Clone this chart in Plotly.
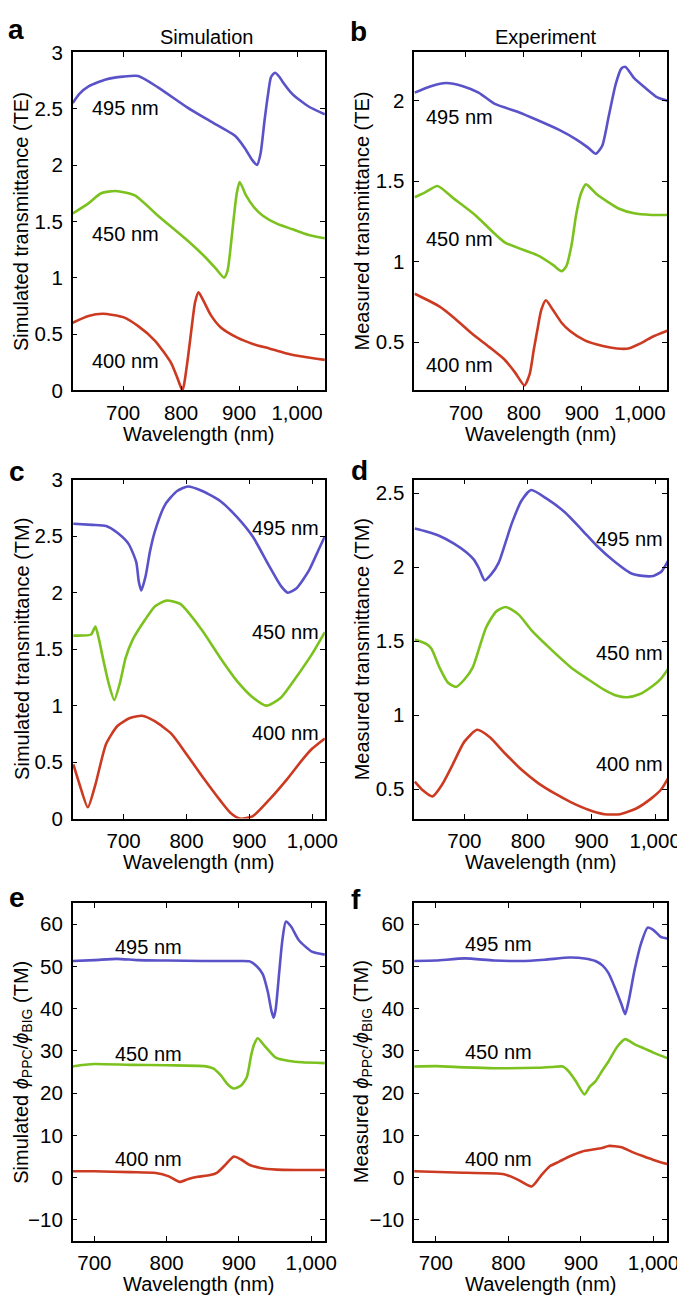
import plotly.graph_objects as go

# ---------------- data ----------------
# Panel a: simulated TE
a_blue_x = [613, 624, 641, 670, 700, 726, 760, 811, 850, 893, 910, 922, 931, 937, 944, 950, 955, 962, 970, 975, 992, 1020, 1048]
a_blue_y = [2.55, 2.63, 2.70, 2.76, 2.785, 2.79, 2.69, 2.51, 2.39, 2.26, 2.15, 2.05, 2.00, 2.10, 2.40, 2.63, 2.78, 2.82, 2.78, 2.74, 2.63, 2.52, 2.45]
a_green_x = [613, 640, 662, 687, 720, 760, 811, 840, 860, 874, 880, 886, 891, 896, 901, 912, 925, 941, 965, 992, 1020, 1048]
a_green_y = [1.57, 1.66, 1.75, 1.77, 1.73, 1.55, 1.33, 1.19, 1.08, 1.00, 1.06, 1.30, 1.54, 1.75, 1.85, 1.73, 1.63, 1.55, 1.48, 1.43, 1.38, 1.35]
a_red_x = [613, 640, 665, 700, 726, 755, 783, 795, 802, 805, 812, 818, 824, 830, 840, 851, 868, 896, 925, 953, 980, 1009, 1048]
a_red_y = [0.60, 0.66, 0.68, 0.65, 0.57, 0.44, 0.24, 0.09, 0.00, 0.05, 0.30, 0.55, 0.78, 0.87, 0.78, 0.67, 0.56, 0.47, 0.41, 0.37, 0.33, 0.30, 0.27]

# Panel b: measured TE
b_blue_x = [612, 640, 666, 695, 722, 750, 790, 823, 860, 890, 910, 924, 935, 946, 958, 968, 975, 990, 1009, 1030, 1047]
b_blue_y = [2.05, 2.09, 2.11, 2.09, 2.05, 1.98, 1.93, 1.88, 1.82, 1.76, 1.71, 1.67, 1.72, 1.90, 2.10, 2.20, 2.21, 2.14, 2.08, 2.02, 2.00]
b_green_x = [612, 630, 651, 680, 716, 767, 823, 850, 865, 873, 882, 890, 898, 907, 925, 945, 963, 990, 1020, 1047]
b_green_y = [1.40, 1.43, 1.47, 1.39, 1.29, 1.12, 1.04, 0.98, 0.94, 0.97, 1.10, 1.29, 1.42, 1.48, 1.42, 1.37, 1.33, 1.30, 1.29, 1.29]
b_red_x = [612, 655, 680, 710, 740, 767, 785, 801, 810, 817, 823, 830, 838, 850, 865, 879, 905, 936, 960, 980, 1000, 1020, 1047]
b_red_y = [0.80, 0.72, 0.65, 0.555, 0.47, 0.39, 0.31, 0.23, 0.30, 0.45, 0.57, 0.70, 0.76, 0.70, 0.62, 0.57, 0.51, 0.475, 0.46, 0.46, 0.49, 0.53, 0.57]

# Panel c: simulated TM
c_blue_x = [620, 650, 672, 690, 708, 720, 724, 728, 735, 742, 750, 766, 785, 802, 825, 854, 880, 906, 930, 950, 961, 975, 995, 1010, 1020]
c_blue_y = [2.61, 2.60, 2.59, 2.53, 2.43, 2.27, 2.10, 2.02, 2.15, 2.37, 2.55, 2.78, 2.90, 2.94, 2.90, 2.81, 2.67, 2.49, 2.25, 2.06, 2.00, 2.04, 2.20, 2.38, 2.50]
c_green_x = [620, 648, 655, 661, 667, 676, 685, 694, 703, 714, 734, 750, 768, 790, 823, 854, 880, 906, 927, 950, 973, 1000, 1020]
c_green_y = [1.62, 1.63, 1.70, 1.58, 1.42, 1.20, 1.05, 1.20, 1.42, 1.58, 1.76, 1.88, 1.93, 1.90, 1.68, 1.42, 1.22, 1.07, 1.00, 1.07, 1.24, 1.46, 1.65]
c_red_x = [620, 630, 643, 655, 672, 690, 710, 729, 750, 776, 800, 828, 855, 870, 885, 905, 932, 960, 984, 1000, 1020]
c_red_y = [0.48, 0.30, 0.10, 0.30, 0.66, 0.82, 0.89, 0.91, 0.86, 0.75, 0.57, 0.35, 0.15, 0.05, 0.00, 0.02, 0.17, 0.35, 0.52, 0.62, 0.71]

# Panel d: measured TM
d_blue_x = [622, 640, 661, 683, 703, 715, 723, 732, 742, 754, 765, 775, 790, 805, 830, 858, 885, 909, 935, 961, 980, 997, 1010, 1020]
d_blue_y = [2.26, 2.24, 2.21, 2.16, 2.10, 2.05, 1.99, 1.91, 1.95, 2.03, 2.17, 2.30, 2.45, 2.52, 2.46, 2.37, 2.25, 2.14, 2.04, 1.96, 1.94, 1.94, 1.97, 2.04]
d_green_x = [622, 640, 648, 661, 674, 687, 700, 713, 734, 750, 765, 785, 806, 837, 868, 895, 920, 940, 956, 975, 997, 1010, 1020]
d_green_y = [1.51, 1.48, 1.45, 1.32, 1.22, 1.19, 1.24, 1.32, 1.59, 1.70, 1.73, 1.68, 1.57, 1.44, 1.32, 1.24, 1.17, 1.13, 1.12, 1.14, 1.20, 1.25, 1.31]
d_red_x = [622, 635, 650, 665, 681, 700, 720, 740, 764, 790, 816, 842, 868, 895, 920, 945, 971, 995, 1010, 1020]
d_red_y = [0.55, 0.49, 0.45, 0.53, 0.66, 0.82, 0.90, 0.85, 0.74, 0.63, 0.54, 0.47, 0.41, 0.36, 0.33, 0.33, 0.37, 0.44, 0.50, 0.57]

# Panel e: simulated phi_PPC/phi_BIG
e_blue_x = [670, 700, 731, 760, 800, 850, 900, 915, 925, 933, 940, 945, 948, 951, 956, 960, 965, 972, 983, 1001, 1019]
e_blue_y = [51.3, 51.5, 51.8, 51.5, 51.4, 51.3, 51.3, 51.2, 50.0, 48.2, 44.0, 39.5, 37.8, 40.0, 49.0, 56.0, 60.6, 59.5, 56.2, 53.5, 52.8]
e_green_x = [670, 680, 700, 750, 800, 852, 865, 875, 885, 893, 903, 911, 917, 921, 926, 935, 951, 970, 987, 1019]
e_green_y = [26.3, 26.6, 26.9, 26.7, 26.6, 26.4, 25.8, 24.2, 22.0, 21.1, 21.8, 23.8, 29.0, 31.5, 33.0, 31.3, 28.4, 27.6, 27.3, 27.1]
e_red_x = [670, 700, 750, 785, 803, 818, 830, 843, 860, 870, 880, 893, 903, 915, 930, 952, 980, 1019]
e_red_y = [1.5, 1.5, 1.3, 1.1, 0.3, -1.0, -0.3, 0.2, 0.6, 1.2, 2.8, 5.0, 4.3, 3.0, 2.3, 1.9, 1.8, 1.8]

# Panel f: measured phi_PPC/phi_BIG
f_blue_x = [670, 700, 740, 780, 817, 850, 884, 905, 920, 930, 938, 948, 956, 961, 966, 974, 983, 992, 1000, 1010, 1019]
f_blue_y = [51.3, 51.4, 51.9, 51.4, 51.3, 51.6, 52.1, 51.9, 51.3, 50.2, 48.4, 44.5, 41.0, 38.7, 42.0, 49.2, 55.5, 59.2, 58.6, 57.0, 56.6]
f_green_x = [670, 700, 740, 780, 839, 860, 875, 884, 893, 905, 912, 920, 930, 938, 950, 961, 975, 987, 1000, 1019]
f_green_y = [26.3, 26.4, 26.1, 25.9, 26.0, 26.2, 26.3, 25.0, 22.8, 19.7, 21.5, 22.8, 25.5, 27.5, 31.0, 32.8, 31.5, 30.6, 29.6, 28.3]
f_red_x = [670, 727, 794, 812, 832, 845, 857, 870, 884, 902, 915, 929, 938, 956, 970, 987, 1000, 1019]
f_red_y = [1.5, 1.2, 0.8, -0.4, -2.1, 0.5, 2.7, 3.8, 5.0, 6.2, 6.6, 7.0, 7.5, 7.2, 6.1, 5.0, 4.2, 3.2]

series_labels = ["495 nm", "450 nm", "400 nm"]
x_tickvals = [700, 800, 900, 1000]
x_ticktext = ["700", "800", "900", "1,000"]
te_sim_ticks = [0, 0.5, 1, 1.5, 2, 2.5, 3]
te_sim_text = ["0", "0.5", "1", "1.5", "2", "2.5", "3"]
te_meas_ticks = [0.5, 1, 1.5, 2]
te_meas_text = ["0.5", "1", "1.5", "2"]
tm_meas_ticks = [0.5, 1, 1.5, 2, 2.5]
tm_meas_text = ["0.5", "1", "1.5", "2", "2.5"]
phi_ticks = [-10, 0, 10, 20, 30, 40, 50, 60]
phi_text = ["\u221210", "0", "10", "20", "30", "40", "50", "60"]

# ---------------- styling ----------------
BLUE, GREEN, RED = "#5a52c8", "#7cc21e", "#cc3a22"
FONT = "Liberation Sans, Arial, Helvetica, sans-serif"
W, H = 685, 1299
TICK_SIZE = 20.5
TEXT_SIZE = 20

col_dom = [[66 / W, 323 / W], [414 / W, 672 / W]]
row_px = [(33, 377), (468, 813), (899, 1243)]
row_dom = [[1 - b / H, 1 - t / H] for t, b in row_px]

panels = [
    dict(key="a", col=0, row=0, xr=[613, 1048], yr=[0, 3], yt=te_sim_ticks, ytt=te_sim_text,
         data=[(a_blue_x, a_blue_y), (a_green_x, a_green_y), (a_red_x, a_red_y)],
         ytitle="Simulated transmittance (TE)",
         labels=[(704, 2.51), (704, 1.39), (704, 0.26)]),
    dict(key="b", col=1, row=0, xr=[611, 1047], yr=[0.2, 2.3], yt=te_meas_ticks, ytt=te_meas_text,
         data=[(b_blue_x, b_blue_y), (b_green_x, b_green_y), (b_red_x, b_red_y)],
         ytitle="Measured transmittance (TE)",
         labels=[(689, 1.90), (689, 1.14), (689, 0.355)]),
    dict(key="c", col=0, row=1, xr=[619, 1020], yr=[0, 3], yt=te_sim_ticks, ytt=te_sim_text,
         data=[(c_blue_x, c_blue_y), (c_green_x, c_green_y), (c_red_x, c_red_y)],
         ytitle="Simulated transmittance (TM)",
         labels=[(958, 2.57), (958, 1.65), (958, 0.76)]),
    dict(key="d", col=1, row=1, xr=[621, 1019], yr=[0.3, 2.59], yt=tm_meas_ticks, ytt=tm_meas_text,
         data=[(d_blue_x, d_blue_y), (d_green_x, d_green_y), (d_red_x, d_red_y)],
         ytitle="Measured transmittance (TM)",
         labels=[(960, 2.19), (960, 1.42), (960, 0.67)]),
    dict(key="e", col=0, row=2, xr=[670, 1019], yr=[-15, 65], yt=phi_ticks, ytt=phi_text,
         data=[(e_blue_x, e_blue_y), (e_green_x, e_green_y), (e_red_x, e_red_y)],
         ytitle="Simulated <i>\u03d5</i><sub>PPC</sub>/<i>\u03d5</i><sub>BIG</sub> (TM)",
         labels=[(775, 54.7), (775, 29.3), (775, 4.3)]),
    dict(key="f", col=1, row=2, xr=[670, 1019], yr=[-15, 65], yt=phi_ticks, ytt=phi_text,
         data=[(f_blue_x, f_blue_y), (f_green_x, f_green_y), (f_red_x, f_red_y)],
         ytitle="Measured <i>\u03d5</i><sub>PPC</sub>/<i>\u03d5</i><sub>BIG</sub> (TM)",
         labels=[(786, 55.2), (786, 29.8), (786, 4.5)]),
]

fig = go.Figure()
layout = dict(width=W, height=H, autosize=False, margin=dict(l=0, r=0, t=0, b=0),
              paper_bgcolor="white", plot_bgcolor="white", showlegend=False,
              font=dict(family=FONT, size=TEXT_SIZE, color="black"))
annotations = []
colors = [BLUE, GREEN, RED]
letter_pos = {"a": (8, 10), "b": (357, 12), "c": (9, 460), "d": (358, 459), "e": (9, 893), "f": (355, 895)}

for i, p in enumerate(panels):
    n = i + 1
    xa = "x" if n == 1 else f"x{n}"
    ya = "y" if n == 1 else f"y{n}"
    axis_common = dict(showline=True, linecolor="black", linewidth=1.5, mirror="ticks",
                       ticks="inside", ticklen=5, tickwidth=1.2, tickcolor="black",
                       showgrid=False, zeroline=False, fixedrange=True,
                       tickfont=dict(family=FONT, size=TICK_SIZE, color="black"))
    layout["xaxis" if n == 1 else f"xaxis{n}"] = dict(
        axis_common, domain=col_dom[p["col"]], range=p["xr"], anchor=ya,
        tickmode="array", tickvals=x_tickvals, ticktext=x_ticktext, ticklabelstandoff=3)
    layout["yaxis" if n == 1 else f"yaxis{n}"] = dict(
        axis_common, domain=row_dom[p["row"]], range=p["yr"], anchor=xa,
        tickmode="array", tickvals=p["yt"], ticktext=p["ytt"], ticklabelstandoff=4)
    for (xs, ys), c in zip(p["data"], colors):
        fig.add_trace(go.Scatter(x=xs, y=ys, mode="lines", xaxis=xa, yaxis=ya,
                                 line=dict(color=c, width=2.6, shape="spline", smoothing=0.6),
                                 hoverinfo="skip"))
    for (lx, ly), txt in zip(p["labels"], series_labels):
        annotations.append(dict(x=lx, y=ly, xref=xa, yref=ya, text=txt, showarrow=False,
                                font=dict(family=FONT, size=TEXT_SIZE, color="black"),
                                xanchor="center", yanchor="middle"))
    # y-axis title
    cx = 14 if p["col"] == 0 else 361
    t, b = row_px[p["row"]]
    annotations.append(dict(x=cx / W, y=1 - ((t + b) / 2) / H, xref="paper", yref="paper",
                            text=p["ytitle"], textangle=-90, showarrow=False,
                            font=dict(family=FONT, size=TEXT_SIZE, color="black"),
                            xanchor="center", yanchor="middle"))
    # x-axis title
    x0, x1 = col_dom[p["col"]]
    annotations.append(dict(x=(x0 + x1) / 2, y=1 - (b + 44) / H, xref="paper", yref="paper",
                            text="Wavelength (nm)", showarrow=False,
                            font=dict(family=FONT, size=TEXT_SIZE, color="black"),
                            xanchor="center", yanchor="middle"))
    # panel letter
    lx, ly = letter_pos[p["key"]]
    annotations.append(dict(x=lx / W, y=1 - ly / H, xref="paper", yref="paper",
                            text=f"<b>{p['key']}</b>", showarrow=False,
                            font=dict(family=FONT, size=28, color="black"),
                            xanchor="center", yanchor="middle"))

annotations.append(dict(x=202 / W, y=1 - 17 / H, xref="paper", yref="paper", text="Simulation",
                        showarrow=False, font=dict(family=FONT, size=TEXT_SIZE, color="black"),
                        xanchor="center", yanchor="middle"))
annotations.append(dict(x=548 / W, y=1 - 17 / H, xref="paper", yref="paper", text="Experiment",
                        showarrow=False, font=dict(family=FONT, size=TEXT_SIZE, color="black"),
                        xanchor="center", yanchor="middle"))
layout["annotations"] = annotations
fig.update_layout(layout)
fig.write_html("out.html")
